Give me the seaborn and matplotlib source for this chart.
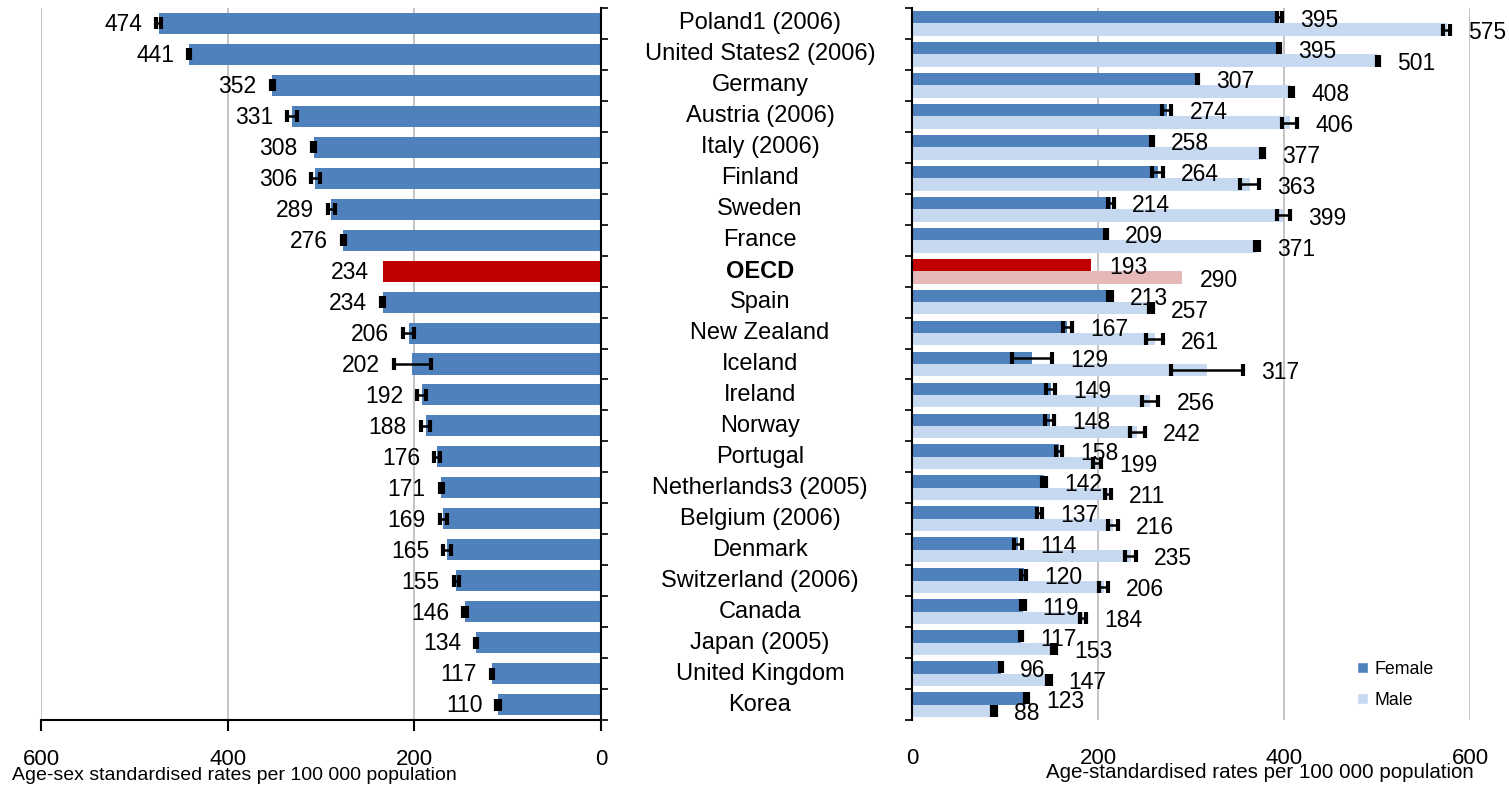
import numpy as np
import pandas as pd
import matplotlib
matplotlib.use("Agg")
import matplotlib.pyplot as plt
import matplotlib.transforms as mtransforms
from matplotlib.patches import Patch
import seaborn as sns

countries = ["Poland1 (2006)", "United States2 (2006)", "Germany", "Austria (2006)", "Italy (2006)",
             "Finland", "Sweden", "France", "OECD", "Spain", "New Zealand", "Iceland", "Ireland",
             "Norway", "Portugal", "Netherlands3 (2005)", "Belgium (2006)", "Denmark",
             "Switzerland (2006)", "Canada", "Japan (2005)", "United Kingdom", "Korea"]

total = [474, 441, 352, 331, 308, 306, 289, 276, 234, 234, 206, 202, 192, 188, 176, 171, 169,
         165, 155, 146, 134, 117, 110]
total_err = [3, 1, 2, 5, 2, 5, 4, 2, 0, 2, 6, 20, 5, 5, 3, 2, 4, 4, 3, 2, 1, 1, 2]

female = [395, 395, 307, 274, 258, 264, 214, 209, 193, 213, 167, 129, 149, 148, 158, 142, 137,
          114, 120, 119, 117, 96, 123]
female_err = [3, 1, 1, 5, 1, 6, 3, 1, 0, 2, 5, 22, 5, 5, 3, 2, 3, 4, 3, 2, 1, 1, 2]
male = [575, 501, 408, 406, 377, 363, 399, 371, 290, 257, 261, 317, 256, 242, 199, 211, 216,
        235, 206, 184, 153, 147, 88]
male_err = [4, 1, 2, 8, 2, 10, 7, 2, 0, 2, 9, 39, 9, 8, 4, 3, 5, 6, 5, 3, 2, 2, 2]

xticks = [0, 200, 400, 600]

DARK = "#4F81BD"
LIGHT = "#C6D9F0"
RED = "#C00000"
PINK = "#E6B9B8"
GRID = "#BFBFBF"

sns.set_style("white")
plt.rcParams["font.family"] = ["Liberation Sans", "DejaVu Sans"]
plt.rcParams["text.color"] = "black"
plt.rcParams["xtick.color"] = "black"
plt.rcParams["ytick.color"] = "black"

W, H = 1509, 788
fig = plt.figure(figsize=(W / 100, H / 100), dpi=100)
ax1 = fig.add_axes([41 / W, 68 / H, 560 / W, 712 / H])
ax2 = fig.add_axes([912 / W, 68 / H, 558 / W, 712 / H])

# left panel: both sexes
df_left = pd.DataFrame({"country": countries, "value": total})
left_colors = {c: (RED if c == "OECD" else DARK) for c in countries}
sns.barplot(data=df_left, x="value", y="country", hue="country", palette=left_colors,
            legend=False, width=0.68, linewidth=0, errorbar=None, orient="h",
            saturation=1, ax=ax1)
bars = list(ax1.patches)
ys = [p.get_y() + p.get_height() / 2 for p in bars]
for c, v, e, y in zip(countries, total, total_err, ys):
    if e > 0:
        ax1.errorbar(v, y, xerr=e, fmt="none", ecolor="black", elinewidth=1.8,
                     capsize=4, capthick=3, zorder=5)
    ax1.annotate(str(v), (v + e, y), xytext=(-10, -1), textcoords="offset points",
                 ha="right", va="center", fontsize=16.5)

ax1.set_xlim(600, 0)
ax1.set_ylim(len(countries) - 0.5, -0.5)
ax1.set_xticks(xticks)
ax1.set_yticks(np.arange(-0.5, len(countries), 1))
ax1.set_yticklabels([])
ax1.yaxis.tick_right()
ax1.tick_params(axis="y", direction="out", length=5, width=1.2, right=True, left=False)
ax1.tick_params(axis="x", direction="out", length=8, width=1.5, labelsize=16, pad=13,
                bottom=True)
ax1.grid(axis="x", color=GRID, lw=1.3)
ax1.set_axisbelow(True)
for s in ["top", "left"]:
    ax1.spines[s].set_visible(False)
for s in ["right", "bottom"]:
    ax1.spines[s].set_color("black")
    ax1.spines[s].set_linewidth(1.5)
ax1.set_xlabel("")
ax1.set_ylabel("")

# right panel: female / male
df_right = pd.DataFrame({
    "country": countries * 2,
    "value": female + male,
    "sex": ["Female"] * len(countries) + ["Male"] * len(countries),
})
sns.barplot(data=df_right, x="value", y="country", hue="sex", hue_order=["Female", "Male"],
            palette={"Female": DARK, "Male": LIGHT}, legend=False, width=0.8, linewidth=0,
            errorbar=None, orient="h", saturation=1, ax=ax2)
oecd_i = countries.index("OECD")
ax2.containers[0][oecd_i].set_facecolor(RED)
ax2.containers[1][oecd_i].set_facecolor(PINK)

for cont, vals, errs in [(ax2.containers[0], female, female_err), (ax2.containers[1], male, male_err)]:
    for p, v, e in zip(cont, vals, errs):
        y = p.get_y() + p.get_height() / 2
        if e > 0:
            ax2.errorbar(v, y, xerr=e, fmt="none", ecolor="black", elinewidth=1.8,
                         capsize=4, capthick=3, zorder=5)
        ax2.annotate(str(v), (v + e, y), xytext=(13, -2), textcoords="offset points",
                     ha="left", va="center", fontsize=16.5, annotation_clip=False)

ax2.set_xlim(0, 600)
ax2.set_ylim(len(countries) - 0.5, -0.5)
ax2.set_xticks(xticks)
ax2.set_yticks(np.arange(-0.5, len(countries), 1))
ax2.set_yticklabels([])
ax2.tick_params(axis="y", direction="out", length=5, width=1.2, left=True)
ax2.tick_params(axis="x", length=0, labelsize=16, pad=20)
ax2.grid(axis="x", color=GRID, lw=1.3)
ax2.set_axisbelow(True)
for s in ["top", "right", "bottom"]:
    ax2.spines[s].set_visible(False)
ax2.spines["left"].set_color("black")
ax2.spines["left"].set_linewidth(1.5)
ax2.set_xlabel("")
ax2.set_ylabel("")

# country names between the panels
tr = mtransforms.blended_transform_factory(fig.transFigure, ax1.transData)
for i, c in enumerate(countries):
    fig.text(760 / W, i, c, transform=tr, ha="center", va="center", fontsize=17,
             fontweight="bold" if c == "OECD" else "normal")

fig.text(12 / W, 1 - 776 / H, "Age-sex standardised rates per 100 000 population",
         ha="left", va="center", fontsize=14)
fig.text(1260 / W, 1 - 772 / H, "Age-standardised rates per 100 000 population",
         ha="center", va="center", fontsize=14.8)

handles = [Patch(facecolor=DARK, label="Female"), Patch(facecolor=LIGHT, label="Male")]
fig.legend(handles=handles, loc="lower left", bbox_to_anchor=(1350 / W, 1 - 716 / H),
           frameon=False, fontsize=12.8, handlelength=0.6, handleheight=0.6, handletextpad=0.4,
           labelspacing=0.8, borderaxespad=0)

fig.savefig("out.png", dpi=100)
